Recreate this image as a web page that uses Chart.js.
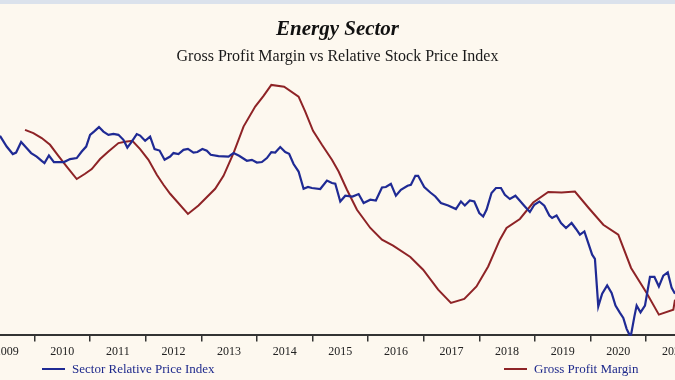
<!DOCTYPE html>
<html lang="en">
<head>
  <meta charset="UTF-8" />
  <title>Energy Sector - Gross Profit Margin vs Relative Stock Price Index</title>
  <script src="https://cdn.jsdelivr.net/npm/chart.js"></script>
  <style>
    body {
      margin: 0;
      background-color: #fdf8ef;
      font-family: "Liberation Serif", "DejaVu Serif", serif;
    }
    .wrap {
      position: relative;
      width: 675px;
      height: 380px;
      overflow: hidden;
    }
    .topband {
      position: absolute;
      left: 0; top: 0;
      width: 675px; height: 4px;
      background-color: #dbe2ec;
    }
    #chart {
      position: absolute;
      left: 0; top: 0;
    }
    .legend-item {
      position: absolute;
      top: 361px;
      font-size: 13px;
      color: #1f2a8c;
      white-space: nowrap;
      line-height: 16px;
    }
    .legend-item .swatch {
      display: inline-block;
      width: 23px;
      height: 2.5px;
      vertical-align: middle;
      margin-right: 7px;
      position: relative;
      top: -1px;
    }
  </style>
</head>
<body>
  <div class="wrap">
    <canvas id="chart" width="675" height="380"></canvas>
    <div class="topband"></div>
    <div class="legend-item" style="left: 42px;"><span class="swatch" style="background:#1f2a94;"></span>Sector Relative Price Index</div>
    <div class="legend-item" style="left: 504px;"><span class="swatch" style="background:#8e2326;"></span>Gross Profit Margin</div>
  </div>

  <script>
    // year labels, placed in the middle of each year
    const yearLabels = ['2009', '2010', '2011', '2012', '2013', '2014', '2015',
                        '2016', '2017', '2018', '2019', '2020', '2021'];

    // Sector relative price index (no scale shown, relative units)
    const priceYears = [
      2009.38, 2009.50, 2009.61, 2009.67, 2009.76, 2009.85, 2009.94, 2010.04, 2010.13, 2010.18,
      2010.26, 2010.35, 2010.46, 2010.53, 2010.64, 2010.76, 2010.85, 2010.93, 2011.00, 2011.07,
      2011.16, 2011.24, 2011.33, 2011.42, 2011.51, 2011.60, 2011.67, 2011.75, 2011.84, 2011.90,
      2011.99, 2012.08, 2012.16, 2012.25, 2012.34, 2012.44, 2012.50, 2012.59, 2012.68, 2012.76,
      2012.86, 2012.93, 2013.02, 2013.10, 2013.17, 2013.31, 2013.49, 2013.58, 2013.68, 2013.82,
      2013.91, 2014.00, 2014.09, 2014.18, 2014.26, 2014.33, 2014.42, 2014.51, 2014.58, 2014.66,
      2014.75, 2014.84, 2014.92, 2014.99, 2015.14, 2015.26, 2015.35, 2015.41, 2015.50, 2015.59,
      2015.72, 2015.83, 2015.92, 2016.04, 2016.14, 2016.25, 2016.32, 2016.41, 2016.50, 2016.59,
      2016.71, 2016.77, 2016.85, 2016.90, 2017.01, 2017.12, 2017.21, 2017.31, 2017.44, 2017.58,
      2017.67, 2017.74, 2017.83, 2017.91, 2018.00, 2018.07, 2018.13, 2018.22, 2018.30, 2018.39,
      2018.46, 2018.55, 2018.65, 2018.73, 2018.82, 2018.91, 2018.99, 2019.08, 2019.17, 2019.26,
      2019.31, 2019.39, 2019.47, 2019.56, 2019.66, 2019.74, 2019.81, 2019.89, 2019.95, 2020.03,
      2020.08, 2020.14, 2020.21, 2020.30, 2020.38, 2020.45, 2020.53, 2020.59, 2020.65, 2020.70,
      2020.73, 2020.79, 2020.83, 2020.90, 2020.98, 2021.07, 2021.15, 2021.23, 2021.31, 2021.39,
      2021.46, 2021.52
    ];
    const priceIndex = [
      79.6, 75.3, 72.3, 72.9, 77.1, 74.9, 72.7, 71.3, 69.6, 68.7,
      71.7, 69.1, 69.1, 69.1, 70.3, 70.7, 73.3, 75.3, 80.0, 81.3,
      83.1, 81.3, 80.0, 80.4, 80.0, 78.0, 74.9, 77.3, 80.3, 79.7,
      77.6, 79.3, 74.3, 73.7, 70.0, 71.3, 72.7, 72.3, 74.0, 74.4,
      72.9, 73.1, 74.3, 73.6, 72.0, 71.5, 71.3, 72.7, 71.6, 69.6,
      70.0, 68.9, 69.1, 70.7, 73.1, 72.9, 75.1, 73.1, 72.4, 68.3,
      65.3, 58.4, 59.1, 58.7, 58.3, 61.7, 60.7, 60.4, 53.3, 55.6,
      55.3, 56.3, 52.7, 54.0, 53.7, 58.9, 59.1, 60.4, 55.6, 58.0,
      59.6, 60.0, 63.6, 63.6, 59.1, 56.9, 55.3, 52.7, 51.7, 50.3,
      53.3, 51.7, 53.7, 53.3, 48.7, 47.3, 50.0, 56.7, 58.7, 58.7,
      56.0, 54.3, 55.6, 53.6, 51.3, 49.1, 52.0, 53.3, 51.6, 47.7,
      46.7, 47.7, 44.7, 42.7, 44.7, 42.3, 40.0, 41.3, 37.3, 32.0,
      30.3, 11.3, 16.4, 19.7, 16.7, 11.6, 8.7, 6.7, 2.3, 0.0,
      0.0, 7.3, 11.6, 8.9, 11.6, 23.1, 23.1, 19.3, 23.6, 24.9,
      18.7, 16.4
    ];

    // Gross profit margin (same relative units)
    const marginYears = [
      2009.83, 2009.98, 2010.13, 2010.28, 2010.43, 2010.58, 2010.76, 2010.91, 2011.03, 2011.18,
      2011.33, 2011.51, 2011.63, 2011.76, 2011.90, 2012.05, 2012.20, 2012.32, 2012.44, 2012.76,
      2012.95, 2013.25, 2013.40, 2013.58, 2013.76, 2013.97, 2014.12, 2014.26, 2014.49, 2014.75,
      2014.87, 2015.01, 2015.17, 2015.35, 2015.47, 2015.62, 2015.80, 2016.04, 2016.25, 2016.45,
      2016.76, 2016.99, 2017.26, 2017.49, 2017.73, 2017.95, 2018.16, 2018.37, 2018.49, 2018.73,
      2018.97, 2019.24, 2019.48, 2019.72, 2019.96, 2020.23, 2020.50, 2020.73, 2021.01, 2021.23,
      2021.49, 2021.52
    ];
    const grossMargin = [
      82.0, 80.7, 78.7, 76.0, 71.6, 67.3, 62.3, 64.4, 66.3, 70.3,
      73.3, 76.7, 77.2, 77.6, 74.3, 70.0, 64.0, 60.0, 56.4, 48.3,
      51.7, 58.4, 63.6, 72.7, 83.3, 91.3, 95.6, 100.0, 99.3, 95.3,
      89.3, 81.6, 76.0, 70.0, 65.3, 58.0, 50.0, 42.7, 38.0, 35.6,
      31.1, 26.0, 18.0, 12.7, 14.3, 19.3, 27.3, 38.0, 42.7, 46.3,
      52.9, 57.1, 56.9, 57.3, 50.9, 44.0, 40.0, 26.7, 16.7, 8.0,
      10.0, 14.0
    ];

    const toPoints = (xs, ys) => xs.map((x, i) => ({ x: x, y: ys[i] }));

    const ctx = document.getElementById('chart').getContext('2d');

    new Chart(ctx, {
      type: 'line',
      data: {
        datasets: [
          {
            label: 'Sector Relative Price Index',
            data: toPoints(priceYears, priceIndex),
            borderColor: '#1f2a94',
            borderWidth: 2.2,
            pointRadius: 0,
            tension: 0,
            clip: false
          },
          {
            label: 'Gross Profit Margin',
            data: toPoints(marginYears, grossMargin),
            borderColor: '#8e2326',
            borderWidth: 2,
            pointRadius: 0,
            tension: 0,
            clip: false
          }
        ]
      },
      options: {
        responsive: false,
        animation: false,
        layout: { padding: { top: 0, bottom: 18, left: 0, right: 0 } },
        plugins: {
          legend: { display: false },
          tooltip: { enabled: false },
          title: {
            display: true,
            text: 'Energy Sector',
            color: '#111',
            font: { family: '"Liberation Serif", serif', size: 21, weight: 'bold', style: 'italic' },
            padding: { top: 17, bottom: 0 }
          },
          subtitle: {
            display: true,
            text: 'Gross Profit Margin vs Relative Stock Price Index',
            color: '#1a1a1a',
            font: { family: '"Liberation Serif", serif', size: 16 },
            padding: { top: 5, bottom: 8 }
          }
        },
        scales: {
          x: {
            type: 'linear',
            min: 2009.38,
            max: 2021.52,
            afterBuildTicks: (scale) => {
              scale.ticks = yearLabels.map(y => ({ value: Number(y) + 0.5 }));
            },
            afterFit: (scale) => {
              scale.paddingLeft = 0;
              scale.paddingRight = 0;
            },
            ticks: {
              autoSkip: false,
              maxRotation: 0,
              padding: 3,
              color: '#222',
              font: { family: '"Liberation Serif", serif', size: 12 },
              callback: (value, index) => yearLabels[index]
            },
            grid: {
              offset: true,
              drawOnChartArea: false,
              drawTicks: true,
              tickLength: 7,
              color: '#333',
              lineWidth: 1.5
            },
            border: { display: true, color: '#333', width: 2 }
          },
          y: {
            display: false,
            min: 0,
            max: 104.2
          }
        }
      }
    });
  </script>
</body>
</html>
